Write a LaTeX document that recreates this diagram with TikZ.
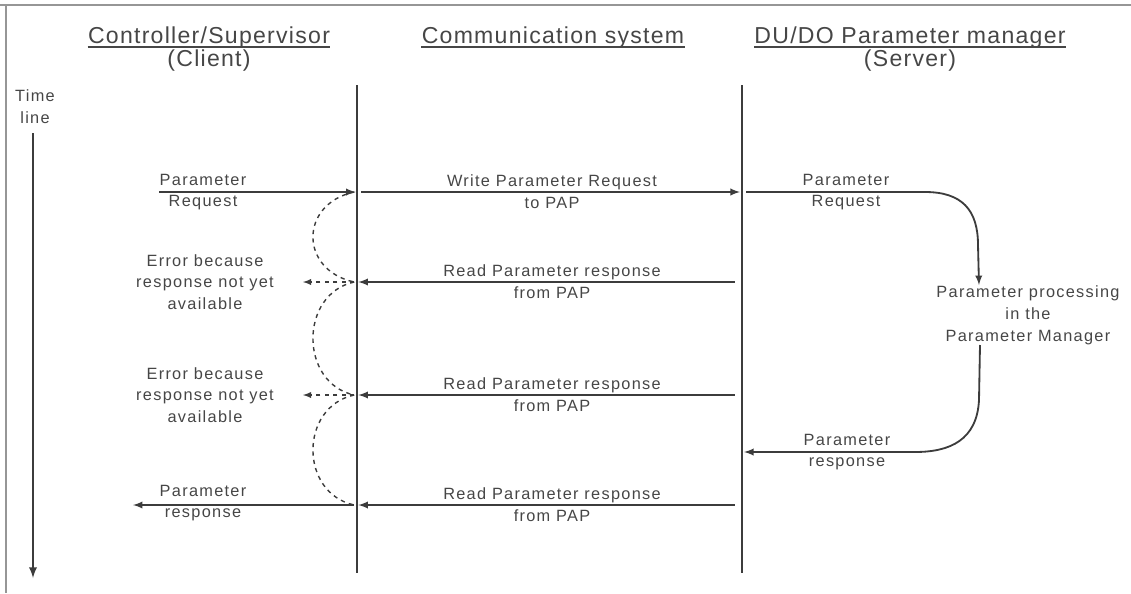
\documentclass[tikz,border=0pt]{standalone}
\usepackage{fontspec}
\usepackage{xcolor}
\usetikzlibrary{arrows}
\newfontfamily\dinfont[LetterSpace=8]{Liberation Sans}
\newfontfamily\dinhead[LetterSpace=5.5]{Liberation Sans}
\definecolor{linegray}{RGB}{60,60,60}
\definecolor{textgray}{RGB}{70,70,70}
\definecolor{framegray}{RGB}{150,150,150}

\begin{document}
\begin{tikzpicture}[x=0.025cm, y=-0.025cm,
  lbl/.style={font=\dinfont\fontsize{11.6}{15.5}\selectfont, text=textgray, align=center, inner sep=0pt},
  head/.style={font=\dinhead\fontsize{16.4}{20}\selectfont, text=textgray, inner sep=0pt, anchor=base},
  msg/.style={line width=1.3pt, color=linegray, -latex},
  life/.style={line width=1.6pt, color=linegray},
  wait/.style={line width=1pt, color=linegray, dashed}]
  \def\cx{357}
  \def\sx{742}

  \useasboundingbox (0,0) rectangle (1131,593);
  \draw[framegray, line width=1.8pt] (0,5) -- (1131,5);
  \draw[framegray, line width=1.5pt] (6,5) -- (6,593);

%headers:
  \node[head] (client) at (209,43.3) {Controller/Supervisor};
  \node[head] (clientsub) at (209,66.7) {(Client)};
  \node[head] (comm) at (553,43.3) {Communication system};
  \node[head] (server) at (910,43.3) {DU/DO Parameter manager};
  \node[head] (serversub) at (910,66.7) {(Server)};
  \foreach \h in {client,comm,server}
    \draw[textgray, line width=1.2pt] ([yshift=-2.4pt]\h.base west) -- ([yshift=-2.4pt]\h.base east);

%time line:
  \node[lbl] (time) at (35,107) {Time\\line};
  \coordinate (tstart) at (33,133);
  \coordinate (tend) at (33,578);
  \draw[life, -latex] (tstart) -- (tend);

%lifelines:
  \coordinate (ctop) at (\cx,85);
  \coordinate (cbot) at (\cx,573);
  \coordinate (stop) at (\sx,85);
  \coordinate (sbot) at (\sx,573);
  \draw[life] (ctop) -- (cbot);
  \draw[life] (stop) -- (sbot);
  \foreach \n/\y in {1/192, 2/282, 3/395, 4/505} {
    \coordinate (c\n) at (\cx,\y);
    \coordinate (s\n) at (\sx,\y);
  }
  \coordinate (s5) at (\sx,452);

%labels:
  \node[lbl] (req) at (203,192) {Parameter\\Request};
  \node[lbl] (wreq) at (552,192) {Write Parameter Request\\to PAP};
  \node[lbl] (sreq) at (846,192) {Parameter\\Request};
  \foreach \n in {2,3,4}
    \node[lbl] (rd\n) at (wreq |- c\n) {Read Parameter response\\from PAP};
  \node[lbl] (err2) at (205,282) {Error because\\response not yet\\available};
  \node[lbl] (err3) at (205,395) {Error because\\response not yet\\available};
  \node[lbl] (resp) at (203,503) {Parameter\\response};
  \node[lbl] (proc) at (1028,315) {Parameter processing\\in the\\Parameter Manager};
  \node[lbl] (sresp) at (847,452) {Parameter\\response};

%messages:
  \draw[msg, shorten >=1pt] (req.west |- c1) -- (c1);
  \draw[msg, shorten <=3pt, shorten >=1.5pt] (c1) -- (s1);
  \foreach \n in {2,3,4}
    \draw[msg, shorten <=5pt, shorten >=1pt] (s\n) -- (c\n);
  \coordinate (e4) at (133,505);
  \draw[msg, shorten <=2pt] (c4) -- (e4);

%server processing:
  \coordinate (p1) at (979,285);
  \coordinate (p2) at (980,345);
  \draw[msg, shorten <=3pt] (s1) -- (925,192) .. controls (962,192) and (978,210) .. (978,245) -- (p1);
  \draw[msg, shorten >=1.5pt] (p2) -- (979,400) .. controls (977,440) and (950,452) .. (915,452) -- (s5);

%polling:
  \foreach \a/\b in {1/2,2/3,3/4}
    \draw[wait] ([xshift=-2pt]c\a) .. controls +(-55,12) and +(-55,-12) .. ([xshift=-2pt]c\b);
  \coordinate (e2) at (303,282);
  \coordinate (e3) at (303,395);
  \draw[wait, -latex] ([xshift=-2pt]c2) -- (e2);
  \draw[wait, -latex] ([xshift=-2pt]c3) -- (e3);
\end{tikzpicture}
\end{document}
